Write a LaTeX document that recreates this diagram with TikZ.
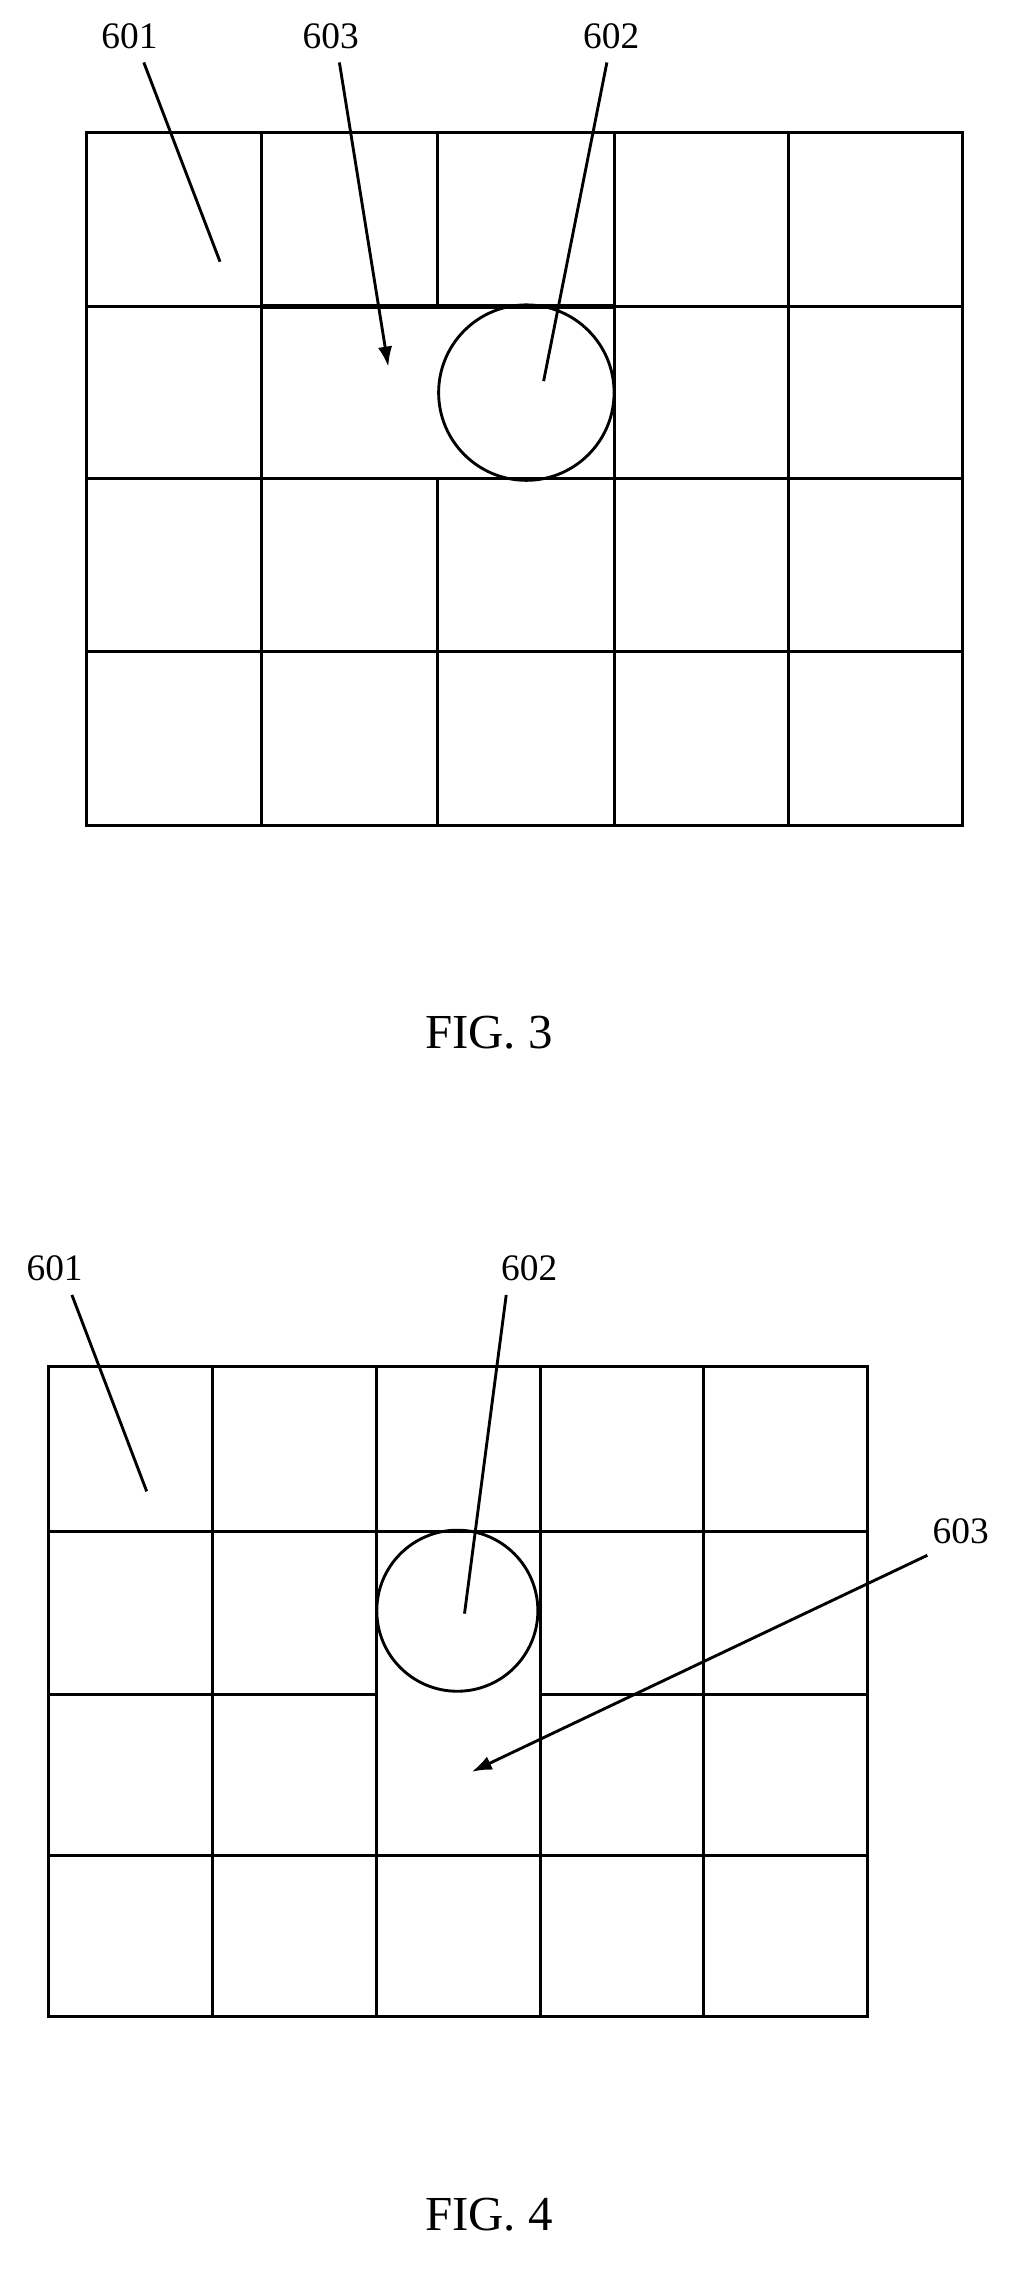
\documentclass[tikz,border=0pt]{standalone}
\usepackage{fontspec}
\setmainfont{Liberation Serif}
\usetikzlibrary{arrows.meta}
\begin{document}
\begin{tikzpicture}[x=0.5pt, y=-0.5pt, line width=1pt,
  lbl/.style = {font=\fontsize{13}{15}\selectfont},
  figcap/.style = {font=\fontsize{17}{20}\selectfont},
  ptr/.style = {-{Latex[length=7pt, width=5pt]}}]
\useasboundingbox (0, 0) rectangle (711, 1584);

% FIG. 3
\draw (60, 92) rectangle (669, 574);
\foreach \x in {182, 427, 548} \draw (\x, 92) -- (\x, 574);
\draw (304, 92) -- (304, 213);
\draw (304, 333) -- (304, 574);
\foreach \y in {333, 453} \draw (60, \y) -- (669, \y);
\draw (60, 213) -- (669, 213);
\draw[line width=1.6pt] (182, 213) -- (427, 213);
\node[draw, circle, minimum size=61pt, inner sep=0pt] (c3) at (366, 273) {};
\node[lbl] (a601) at (90, 25) {601};
\node[lbl] (a603) at (230, 25) {603};
\node[lbl] (a602) at (425, 25) {602};
\coordinate (p601) at (153, 182);
\coordinate (p603) at (270, 255);
\coordinate (p602) at (378, 265);
\draw (a601.south) ++(10, 2) -- (p601);
\draw[ptr] (a603.south) ++(6, 2) -- (p603);
\draw (a602.south) ++(-3, 2) -- (p602);
\node[figcap] (fig3) at (340, 718) {FIG. 3};

% FIG. 4
\draw (34, 950) rectangle (603, 1402);
\foreach \x in {148, 262, 376, 489} \draw (\x, 950) -- (\x, 1402);
\foreach \y in {1065, 1290} \draw (34, \y) -- (603, \y);
\draw (34, 1178) -- (262, 1178);
\draw (376, 1178) -- (603, 1178);
\node[draw, circle, minimum size=56pt, inner sep=0pt] (c4) at (318, 1120) {};
\node[lbl] (b601) at (38, 882) {601};
\node[lbl] (b602) at (368, 882) {602};
\node[lbl] (b603) at (668, 1065) {603};
\coordinate (q601) at (102, 1037);
\coordinate (q602) at (323, 1122);
\coordinate (q603) at (328, 1232);
\draw (b601.south) ++(12, 2) -- (q601);
\draw (b602.south) ++(-16, 2) -- (q602);
\draw[ptr] (b603.south west) ++(4, 0) -- (q603);
\node[figcap] (fig4) at (340, 1540) {FIG. 4};
\end{tikzpicture}
\end{document}
